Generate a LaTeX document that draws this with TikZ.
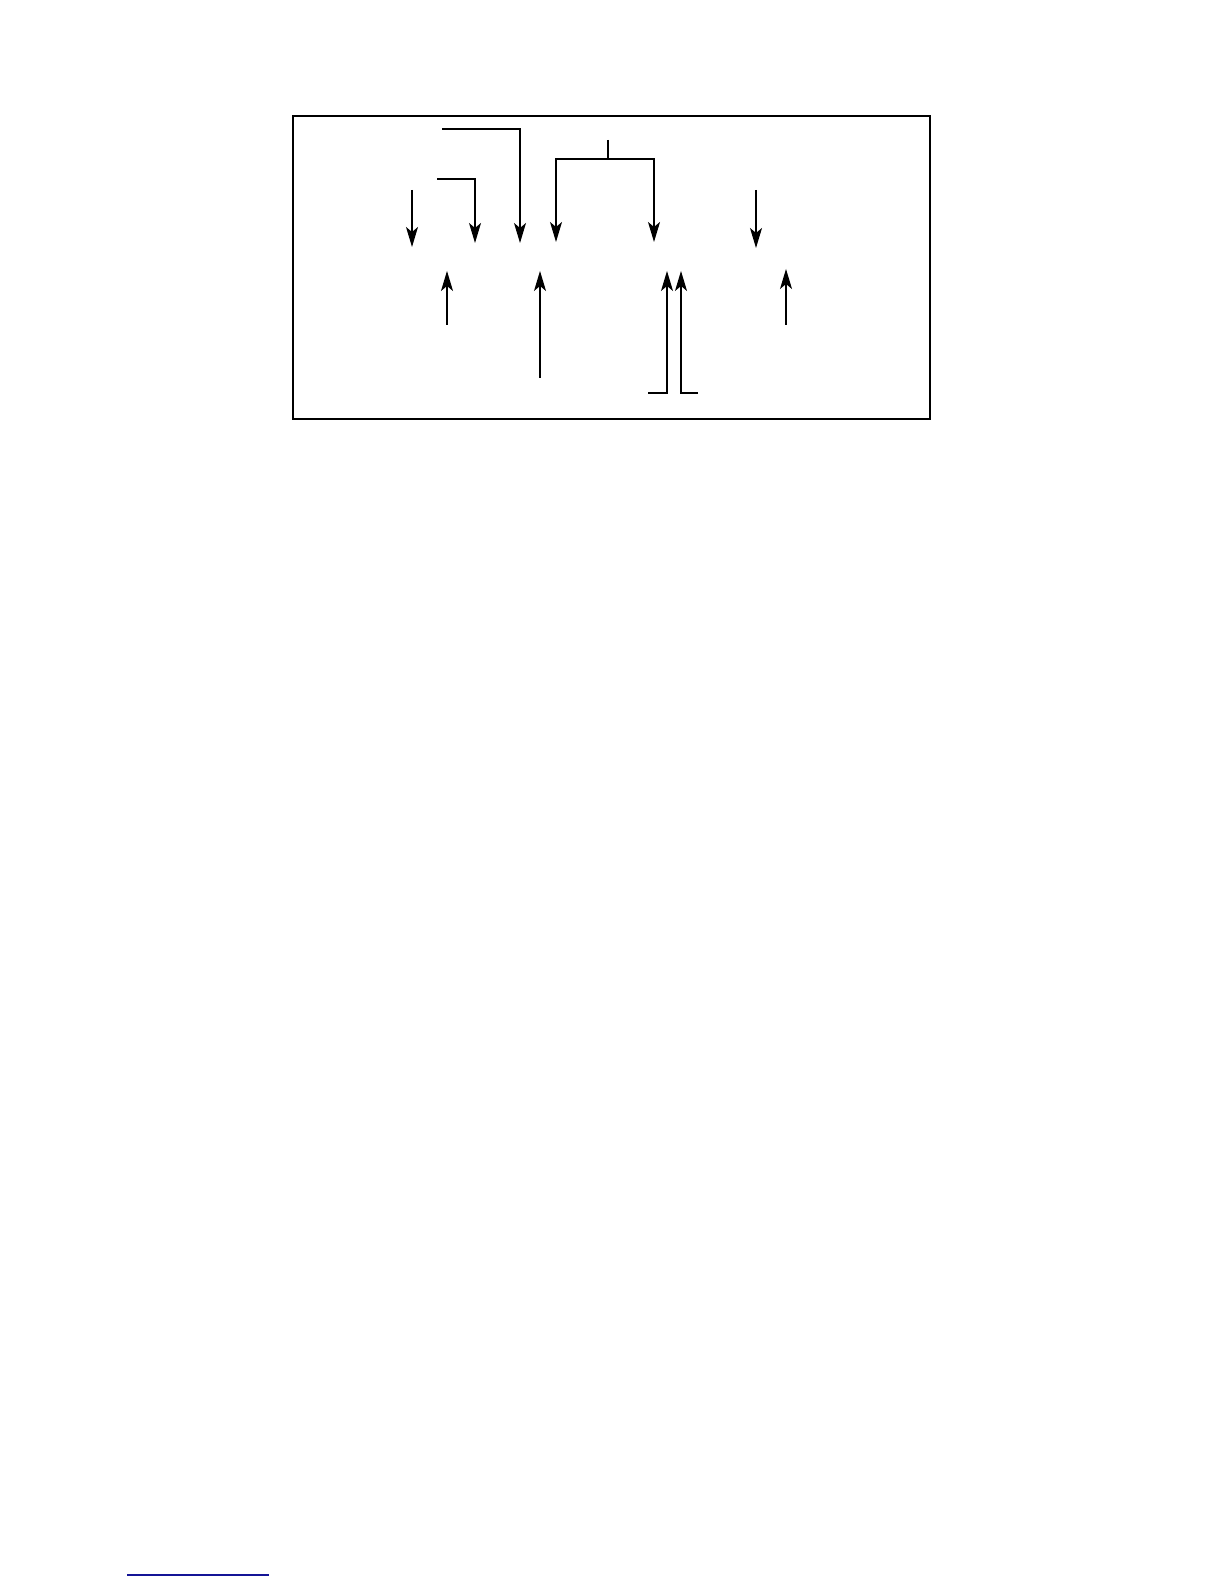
\documentclass[tikz,border=0pt]{standalone}
\usepackage{tikz}
\usetikzlibrary{arrows.meta,positioning}
\tikzset{
    frame/.style={draw,line width=1pt},
    pre/.style={-{Stealth[length=10pt,width=6pt,inset=2.5pt]},line width=0.6pt},
    bi/.style={-,line width=0.6pt}
}
\definecolor{linkblue}{RGB}{20,20,150}

\begin{document}
\begin{tikzpicture}[x=1pt,y=1pt]

                \useasboundingbox (0,0) rectangle (612,792);

                \draw[frame] (146.5,582.5) rectangle (465,734);

                % arrows from above
                \coordinate (in a)    at (206,697);
                \coordinate (out a)   at (206,668.5);
                \coordinate (in b)    at (218.5,702.5);
                \coordinate (out b)   at (237.5,670.5);
                \coordinate (in c)    at (221,727.5);
                \coordinate (out c)   at (260,670.5);
                \coordinate (split)   at (304,722);
                \coordinate (split j) at (304,712.5);
                \coordinate (out d)   at (278,671);
                \coordinate (out e)   at (327,671);
                \coordinate (in f)    at (378,697);
                \coordinate (out f)   at (378,668);

                \draw[pre] (in a) -- (out a);
                \draw[pre] (in b) -| (out b);
                \draw[pre] (in c) -| (out c);
                \draw[bi]  (split) -- (split j);
                \draw[pre] (split j) -| (out d);
                \draw[pre] (split j) -| (out e);
                \draw[pre] (in f) -- (out f);

                % arrows from below
                \coordinate (in g)    at (223.5,629.5);
                \coordinate (out g)   at (223.5,656.5);
                \coordinate (in h)    at (270,603);
                \coordinate (out h)   at (270,656.5);
                \coordinate (in i)    at (324,595.5);
                \coordinate (out i)   at (333.5,656.5);
                \coordinate (in k)    at (349,595.5);
                \coordinate (out k)   at (340.5,656.5);
                \coordinate (in l)    at (393,629.5);
                \coordinate (out l)   at (393,657.5);

                \draw[pre] (in g) -- (out g);
                \draw[pre] (in h) -- (out h);
                \draw[pre] (in i) -| (out i);
                \draw[pre] (in k) -| (out k);
                \draw[pre] (in l) -- (out l);

                % rule at the foot of the page
                \coordinate (rule a) at (63.5,4.5);
                \coordinate (rule b) at (134.5,4.5);
                \draw[linkblue,line width=0.7pt] (rule a) -- (rule b);

            \end{tikzpicture}
\end{document}
